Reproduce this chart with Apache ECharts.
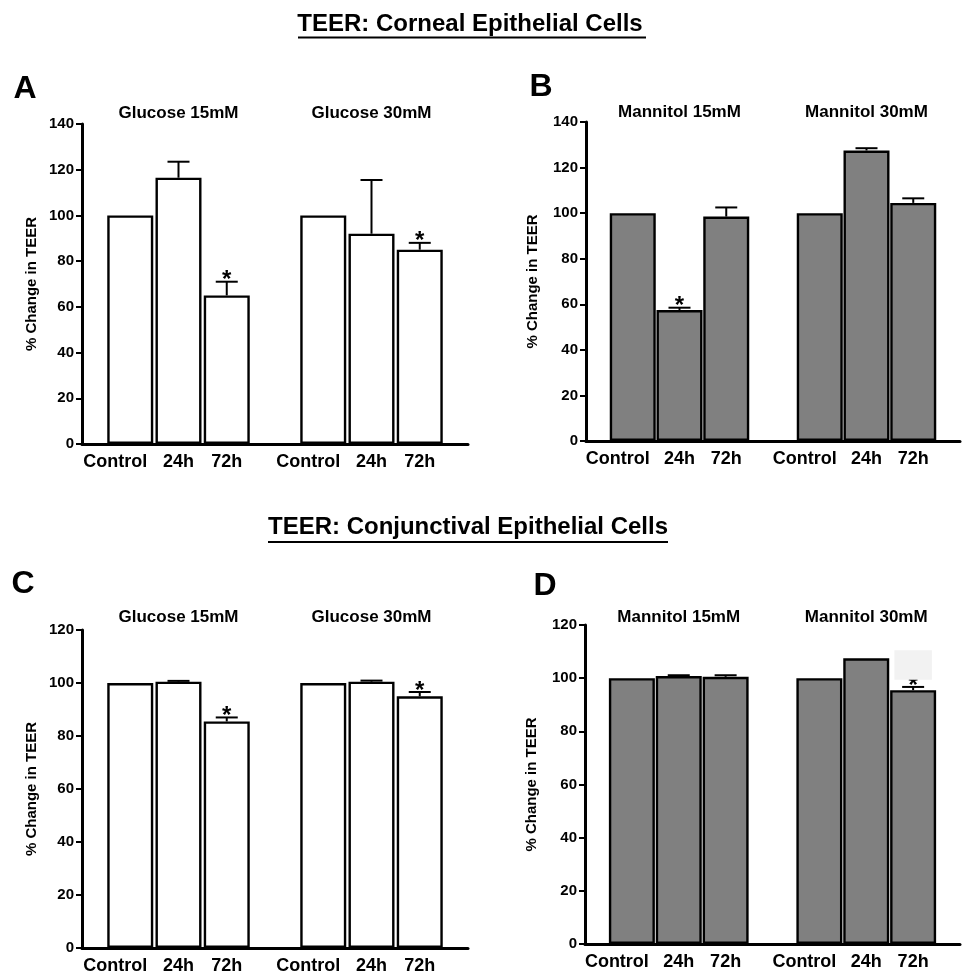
<!DOCTYPE html>
<html><head><meta charset="utf-8">
<script src="https://cdn.jsdelivr.net/npm/echarts@6/dist/echarts.min.js"></script>
<style>html,body{margin:0;padding:0;background:#fff}#c{width:963px;height:975px}</style>
</head><body><div id="c"></div>
<script>
// ---------- data ----------
const timepoints = ['Control', '24h', '72h'];
const groupsGlucose = ['Glucose 15mM', 'Glucose 30mM'];
const groupsMannitol = ['Mannitol 15mM', 'Mannitol 30mM'];
const sectionTitles = ['TEER: Corneal Epithelial Cells', 'TEER: Conjunctival Epithelial Cells'];
const panelLetters = ['A', 'B', 'C', 'D'];
const yAxisTitle = '% Change in TEER';

// order: 15mM Control, 24h, 72h, 30mM Control, 24h, 72h
const cornealGlucoseMean = [100, 116.5, 65, 100, 92, 85];
const cornealGlucoseErr  = [0, 7, 6, 0, 23.5, 3];
const cornealGlucoseSig  = [0, 0, 1, 0, 0, 1];

const cornealMannitolMean = [100, 57.5, 98.5, 100, 127.5, 104.5];
const cornealMannitolErr  = [0, 1, 4, 0, 1, 2];
const cornealMannitolSig  = [0, 1, 0, 0, 0, 0];

const conjGlucoseMean = [100, 100.5, 85.5, 100, 100.5, 95];
const conjGlucoseErr  = [0, 0.3, 1.5, 0, 0.4, 1.6];
const conjGlucoseSig  = [0, 0, 1, 0, 0, 1];

const conjMannitolMean = [100, 100.8, 100.5, 100, 107.5, 95.5];
const conjMannitolErr  = [0, 0.3, 0.6, 0, 0, 1.2];
const conjMannitolSig  = [0, 0, 0, 0, 0, 1];

const yMaxCorneal = 140;
const yMaxConj = 120;
const yStep = 20;

// light grey patch covering the label above 72h / Mannitol 30mM in panel D (value range)
const panelDPatch = [99.4, 110.5];

// ---------- layout ----------
const FONT = 'Liberation Sans, Arial, Helvetica, sans-serif';
const slots = ['', ...timepoints, '', ...timepoints, ''];
const slotOf = i => Math.floor(i / 3) * 4 + (i % 3) + 1;

const panels = [
  {mean: cornealGlucoseMean, err: cornealGlucoseErr, sig: cornealGlucoseSig, groups: groupsGlucose, yMax: yMaxCorneal, fill: '#ffffff',
   grid: {left: 82, top: 124, width: 386, height: 320}, nameGap: 43, titleOffset: 11},
  {mean: cornealMannitolMean, err: cornealMannitolErr, sig: cornealMannitolSig, groups: groupsMannitol, yMax: yMaxCorneal, fill: '#808080',
   grid: {left: 586, top: 122, width: 384, height: 319}, nameGap: 46, titleOffset: 10},
  {mean: conjGlucoseMean, err: conjGlucoseErr, sig: conjGlucoseSig, groups: groupsGlucose, yMax: yMaxConj, fill: '#ffffff',
   grid: {left: 82, top: 630, width: 386, height: 319}, nameGap: 43, titleOffset: 13},
  {mean: conjMannitolMean, err: conjMannitolErr, sig: conjMannitolSig, groups: groupsMannitol, yMax: yMaxConj, fill: '#808080',
   grid: {left: 585, top: 625, width: 385, height: 319}, nameGap: 46, titleOffset: 8, patch: panelDPatch}
];

const grids = [], xAxes = [], yAxes = [], series = [];
panels.forEach((p, k) => {
  grids.push(Object.assign({containLabel: false}, p.grid));
  xAxes.push({
    type: 'category', gridIndex: k, data: slots, boundaryGap: false,
    axisLine: {show: true, lineStyle: {color: '#000', width: 3}},
    axisTick: {show: false}, splitLine: {show: false},
    axisLabel: {
      interval: 0, color: '#000', fontSize: 18, fontWeight: 'bold', fontFamily: FONT, margin: 9,
      formatter: v => v === 'Control' ? '{c|Control}' : v,
      rich: {c: {padding: [0, 30, 0, 0], fontSize: 18, fontWeight: 'bold', color: '#000', fontFamily: FONT}}
    }
  });
  yAxes.push({
    type: 'value', gridIndex: k, min: 0, max: p.yMax, interval: yStep,
    axisLine: {show: true, lineStyle: {color: '#000', width: 3}},
    axisTick: {show: true, length: 6, lineStyle: {color: '#000', width: 2}},
    splitLine: {show: false},
    axisLabel: {color: '#000', fontSize: 15, fontWeight: 'bold', fontFamily: FONT, margin: 8},
    name: yAxisTitle, nameLocation: 'middle', nameGap: p.nameGap,
    nameTextStyle: {color: '#000', fontSize: 15, fontWeight: 'bold', fontFamily: FONT}
  });
  const barData = slots.map(() => null);
  p.mean.forEach((v, i) => { barData[slotOf(i)] = v; });
  series.push({
    type: 'bar', xAxisIndex: k, yAxisIndex: k, data: barData, barWidth: 46,
    itemStyle: {color: p.fill, borderColor: '#000', borderWidth: 2.4},
    animation: false, silent: true
  });
  // error bars + significance stars
  series.push({
    type: 'custom', xAxisIndex: k, yAxisIndex: k, animation: false, silent: true, clip: false, z: 3,
    data: p.mean.map((v, i) => [slotOf(i), v, p.err[i], p.sig[i]]),
    renderItem: (params, api) => {
      const x = api.value(0), m = api.value(1), e = api.value(2), s = api.value(3);
      const top = api.coord([x, m + e]);
      const base = api.coord([x, m]);
      const ch = [];
      if (e > 0) {
        ch.push({type: 'line', shape: {x1: base[0], y1: base[1], x2: top[0], y2: top[1]}, style: {stroke: '#000', lineWidth: 2}});
        ch.push({type: 'line', shape: {x1: top[0] - 11, y1: top[1], x2: top[0] + 11, y2: top[1]}, style: {stroke: '#000', lineWidth: 2}});
      }
      if (s) {
        ch.push({type: 'text', style: {text: '*', x: top[0], y: top[1] - 1, align: 'center', verticalAlign: 'middle',
          font: 'bold 24px ' + FONT, fill: '#000'}});
      }
      return {type: 'group', children: ch};
    }
  });
  // group titles
  series.push({
    type: 'custom', xAxisIndex: k, yAxisIndex: k, animation: false, silent: true, clip: false, z: 3,
    data: p.groups.map((g, gi) => [gi * 4 + 2, p.yMax]),
    renderItem: (params, api) => {
      const c = api.coord([api.value(0), api.value(1)]);
      return {type: 'text', style: {text: p.groups[params.dataIndex], x: c[0], y: c[1] - p.titleOffset,
        align: 'center', verticalAlign: 'middle', font: 'bold 17px ' + FONT, fill: '#000'}};
    }
  });
  if (p.patch) {
    series.push({
      type: 'custom', xAxisIndex: k, yAxisIndex: k, animation: false, silent: true, clip: false, z: 5,
      data: [[slotOf(5), p.patch[0], p.patch[1]]],
      renderItem: (params, api) => {
        const a = api.coord([api.value(0), api.value(2)]);
        const b = api.coord([api.value(0), api.value(1)]);
        const w = api.size([1, 0])[0] * 0.8;
        return {type: 'rect', shape: {x: a[0] - w / 2, y: a[1], width: w, height: b[1] - a[1]}, style: {fill: '#f2f2f2'}};
      }
    });
  }
});

const letterPos = [[25, 89], [541, 87], [23, 584], [545, 586]];
const graphic = [];
panelLetters.forEach((L, i) => graphic.push({type: 'text', x: letterPos[i][0], y: letterPos[i][1],
  style: {text: L, align: 'center', verticalAlign: 'middle', font: 'bold 32px ' + FONT, fill: '#000'}}));
const titlePos = [[470, 24, 298, 646, 37.5], [468, 527, 268, 668, 542]];
sectionTitles.forEach((t, i) => {
  const tp = titlePos[i];
  graphic.push({type: 'text', x: tp[0], y: tp[1], style: {text: t, align: 'center', verticalAlign: 'middle', font: 'bold 24px ' + FONT, fill: '#000'}});
  graphic.push({type: 'line', shape: {x1: tp[2], y1: tp[4], x2: tp[3], y2: tp[4]}, style: {stroke: '#000', lineWidth: 2}});
});

const chart = echarts.init(document.getElementById('c'), null, {renderer: 'canvas'});
chart.setOption({
  animation: false,
  backgroundColor: '#fff',
  textStyle: {fontFamily: FONT},
  grid: grids, xAxis: xAxes, yAxis: yAxes, series: series, graphic: graphic
});
</script></body></html>
